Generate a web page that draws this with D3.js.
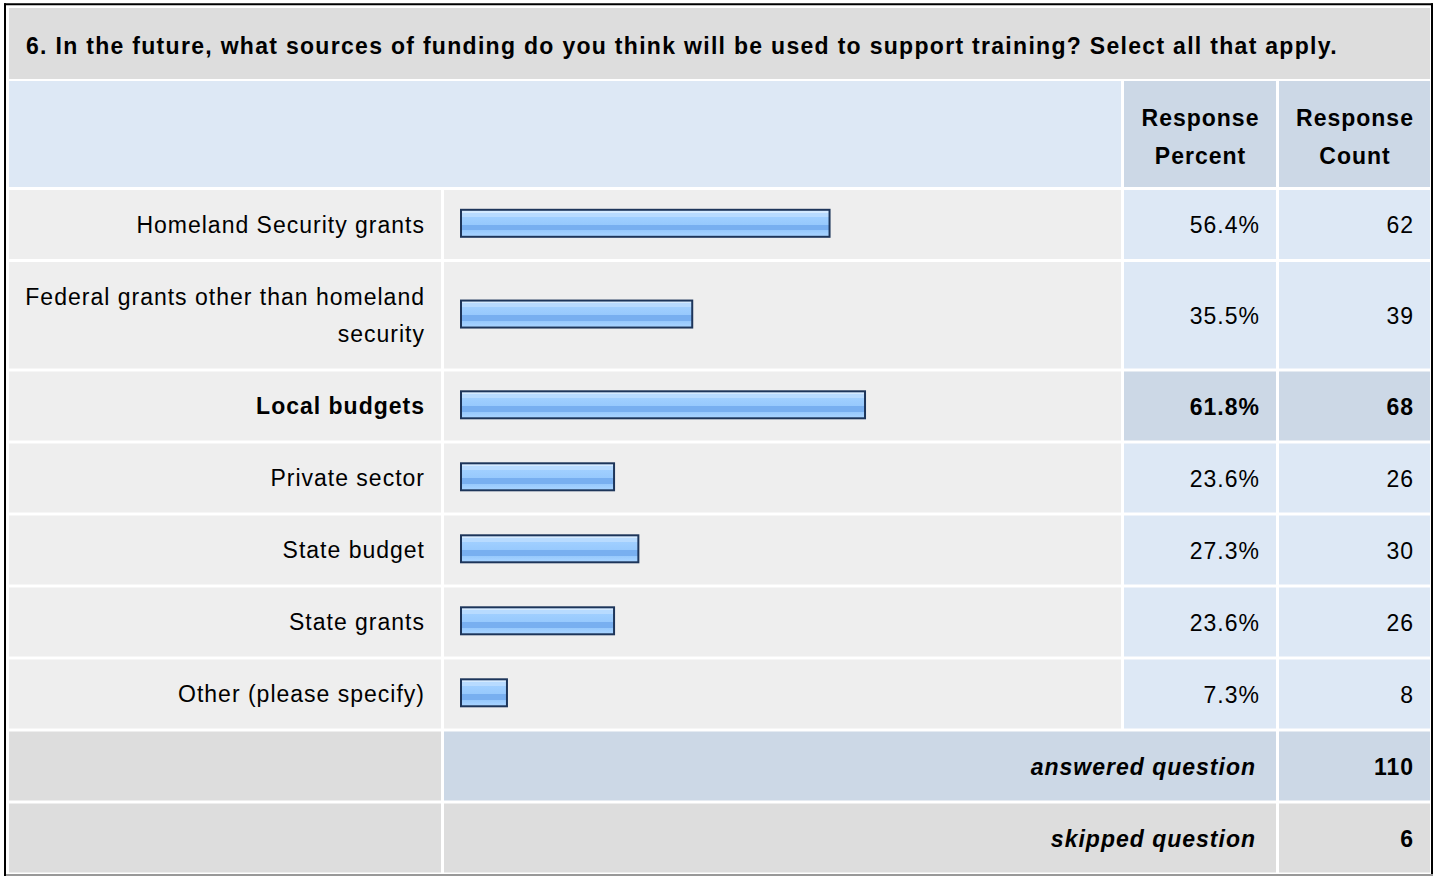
<!DOCTYPE html>
<html>
<head>
<meta charset="utf-8">
<script src="https://cdn.jsdelivr.net/npm/d3@7"></script>
<style>
  html, body { margin: 0; padding: 0; background: #fff; }
  svg { display: block; font-family: "Liberation Sans", Arial, Helvetica, sans-serif; }
</style>
</head>
<body>
<svg id="chart" width="1437" height="876"></svg>
<script>
const titleText = "6. In the future, what sources of funding do you think will be used to support training? Select all that apply.";
const categories = [
  "Homeland Security grants",
  "Federal grants other than homeland security",
  "Local budgets",
  "Private sector",
  "State budget",
  "State grants",
  "Other (please specify)"
];
const percents = [56.4, 35.5, 61.8, 23.6, 27.3, 23.6, 7.3];
const counts = [62, 39, 68, 26, 30, 26, 8];
const headerLines = [["Response", "Percent"], ["Response", "Count"]];
const summaryLabels = ["answered question", "skipped question"];
const summaryCounts = [110, 6];

const svg = d3.select("#chart");
const FS = 23, LS = 1.0, LH = 37.5;
const C = {
  title: "#dddddd", headBlue: "#dde8f5", headDark: "#ccd8e6",
  row: "#eeeeee", cellBlue: "#dde8f5", cellDark: "#ccd8e6", summaryGray: "#dddddd"
};
const col = { l0: 9, l1: 441, b0: 444, b1: 1121, p0: 1124, p1: 1276, c0: 1279, c1: 1430 };
const pad = 17;

// gradient for bars
const defs = svg.append("defs");
const g = defs.append("linearGradient").attr("id", "barGrad").attr("x1", 0).attr("y1", 0).attr("x2", 0).attr("y2", 1);
[[0, "#d4eaff"], [0.1, "#d4eaff"], [0.1, "#b8dbff"], [0.25, "#b8dbff"], [0.25, "#a0cfff"], [0.55, "#97c9fd"],
 [0.55, "#78aff0"], [0.76, "#78aff0"], [0.76, "#96c8fc"], [0.9, "#a2d0ff"], [1, "#aad4ff"]]
  .forEach(([o, c]) => g.append("stop").attr("offset", o).attr("stop-color", c));

// outer frame
svg.append("rect").attr("x", 0).attr("y", 0).attr("width", 1437).attr("height", 876).attr("fill", "#fff");
svg.append("line").attr("x1", 4).attr("x2", 1433).attr("y1", 4.3).attr("y2", 4.3).attr("stroke", "#000").attr("stroke-width", 2);
svg.append("line").attr("x1", 5).attr("x2", 5).attr("y1", 3.3).attr("y2", 876).attr("stroke", "#000").attr("stroke-width", 2);
svg.append("line").attr("x1", 1432).attr("x2", 1432).attr("y1", 3.3).attr("y2", 874).attr("stroke", "#000").attr("stroke-width", 2);
svg.append("line").attr("x1", 6).attr("x2", 1433).attr("y1", 875).attr("y2", 875).attr("stroke", "#999").attr("stroke-width", 2);

// title
svg.append("rect").attr("x", col.l0).attr("y", 8).attr("width", col.c1 - col.l0).attr("height", 71).attr("fill", C.title);
svg.append("text").attr("x", 26).attr("y", 54).attr("font-size", FS).attr("font-weight", "bold")
  .attr("letter-spacing", 1.3).attr("fill", "#000").text(titleText);

// header
const headTop = 81, headH = 106;
svg.append("rect").attr("x", col.l0).attr("y", headTop).attr("width", col.b1 - col.l0).attr("height", headH).attr("fill", C.headBlue);
[[col.p0, col.p1], [col.c0, col.c1]].forEach(([a, b], i) => {
  svg.append("rect").attr("x", a).attr("y", headTop).attr("width", b - a).attr("height", headH).attr("fill", C.headDark);
  const t = svg.append("text").attr("text-anchor", "middle").attr("font-size", FS).attr("font-weight", "bold")
    .attr("letter-spacing", LS).attr("fill", "#000");
  headerLines[i].forEach((s, k) => t.append("tspan").attr("x", (a + b) / 2 + LS / 2).attr("y", 125.5 + k * 38).text(s));
});

// wrap labels
const maxW = 412;
const meas = svg.append("text").attr("font-size", FS).attr("letter-spacing", LS).attr("visibility", "hidden");
function wrap(str, bold) {
  meas.attr("font-weight", bold ? "bold" : "normal");
  const words = str.split(" "); const lines = []; let cur = "";
  words.forEach(w => {
    const test = cur ? cur + " " + w : w;
    meas.text(test);
    if (meas.node().getComputedTextLength() > maxW && cur) { lines.push(cur); cur = w; } else cur = test;
  });
  lines.push(cur);
  return lines;
}
const maxPct = d3.max(percents);
const rows = categories.map((c, i) => ({ label: c, pct: percents[i], count: counts[i], hi: percents[i] === maxPct }));
rows.forEach(r => { r.lines = wrap(r.label, r.hi); r.h = 69 + (r.lines.length - 1) * LH; });
meas.remove();
let yCur = headTop + headH + 3;
rows.forEach(r => { r.y = yCur; yCur += r.h + 3; });

const x = d3.scaleLinear().domain([0, 100]).range([0, 657]);
const barX = 460, barH = 29;

const rg = svg.selectAll("g.row").data(rows).join("g").attr("class", "row");
rg.append("rect").attr("x", col.l0).attr("y", d => d.y).attr("width", col.l1 - col.l0).attr("height", d => d.h).attr("fill", C.row);
rg.append("rect").attr("x", col.b0).attr("y", d => d.y).attr("width", col.b1 - col.b0).attr("height", d => d.h).attr("fill", C.row);
rg.append("rect").attr("x", col.p0).attr("y", d => d.y).attr("width", col.p1 - col.p0).attr("height", d => d.h).attr("fill", d => d.hi ? C.cellDark : C.cellBlue);
rg.append("rect").attr("x", col.c0).attr("y", d => d.y).attr("width", col.c1 - col.c0).attr("height", d => d.h).attr("fill", d => d.hi ? C.cellDark : C.cellBlue);

rg.each(function (d) {
  const t = d3.select(this).append("text").attr("text-anchor", "end").attr("font-size", FS).attr("letter-spacing", LS)
    .attr("font-weight", d.hi ? "bold" : "normal").attr("fill", "#000");
  const cy = d.y + d.h / 2;
  const first = cy + 8.3 - (d.lines.length - 1) * LH / 2;
  d.lines.forEach((s, k) => t.append("tspan").attr("x", col.l1 - pad + LS).attr("y", first + k * LH).text(s));
});

rg.append("rect")
  .attr("x", barX + 1).attr("y", d => d.y + d.h / 2 - barH / 2 - 0.2)
  .attr("width", d => Math.max(0, x(d.pct) - 2)).attr("height", barH - 2)
  .attr("fill", "url(#barGrad)").attr("stroke", "#1d355a").attr("stroke-width", 2);

rg.append("text").attr("text-anchor", "end").attr("x", col.p1 - pad + LS).attr("y", d => d.y + d.h / 2 + 8.5)
  .attr("font-size", FS).attr("letter-spacing", LS).attr("font-weight", d => d.hi ? "bold" : "normal").attr("fill", "#000")
  .text(d => d.pct.toFixed(1) + "%");
rg.append("text").attr("text-anchor", "end").attr("x", col.c1 - pad + LS).attr("y", d => d.y + d.h / 2 + 8.5)
  .attr("font-size", FS).attr("letter-spacing", LS).attr("font-weight", d => d.hi ? "bold" : "normal").attr("fill", "#000")
  .text(d => d.count);

// summary rows
summaryLabels.forEach((lab, i) => {
  const y = yCur + i * 72, h = 69;
  const mid = i === 0 ? C.cellDark : C.summaryGray;
  svg.append("rect").attr("x", col.l0).attr("y", y).attr("width", col.l1 - col.l0).attr("height", h).attr("fill", C.summaryGray);
  svg.append("rect").attr("x", col.b0).attr("y", y).attr("width", col.p1 - col.b0).attr("height", h).attr("fill", mid);
  svg.append("rect").attr("x", col.c0).attr("y", y).attr("width", col.c1 - col.c0).attr("height", h).attr("fill", mid);
  svg.append("text").attr("text-anchor", "end").attr("x", col.p1 - 21 + LS).attr("y", y + h / 2 + 8.5)
    .attr("font-size", FS).attr("letter-spacing", LS).attr("font-weight", "bold").attr("font-style", "italic").attr("fill", "#000").text(lab);
  svg.append("text").attr("text-anchor", "end").attr("x", col.c1 - pad + LS).attr("y", y + h / 2 + 8.5)
    .attr("font-size", FS).attr("letter-spacing", LS).attr("font-weight", "bold").attr("fill", "#000").text(summaryCounts[i]);
});
</script>
</body>
</html>
